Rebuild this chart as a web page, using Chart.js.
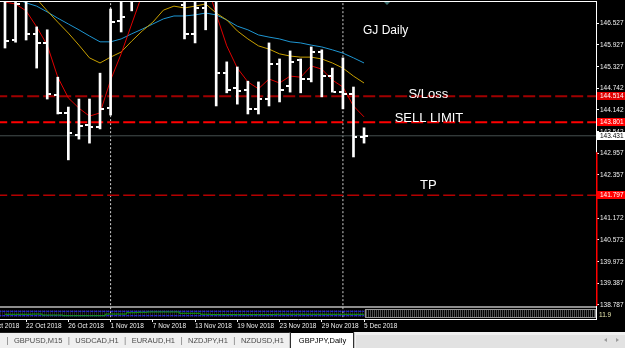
<!DOCTYPE html>
<html>
<head>
<meta charset="utf-8">
<script src="https://cdn.jsdelivr.net/npm/chart.js@4.4.1/dist/chart.umd.min.js"></script>
<style>
  html, body { margin: 0; padding: 0; background: #000; }
  #wrap { width: 625px; height: 348px; position: relative; }
</style>
</head>
<body>
<div id="wrap"><canvas id="gj" width="625" height="348"></canvas></div>
<script>
// GBPJPY daily, 18 Oct - 5 Dec 2018 (one entry per trading day)
const barDates = ["18 Oct","19 Oct","22 Oct","23 Oct","24 Oct","25 Oct","26 Oct","29 Oct","30 Oct","31 Oct",
  "1 Nov","2 Nov","5 Nov","6 Nov","7 Nov","8 Nov","9 Nov","12 Nov","13 Nov","14 Nov","15 Nov","16 Nov",
  "19 Nov","20 Nov","21 Nov","22 Nov","23 Nov","26 Nov","27 Nov","28 Nov","29 Nov","30 Nov",
  "3 Dec","4 Dec","5 Dec"];
const opens  = [147.29,146.06,147.24,146.22,145.98,144.55,144.06,143.45,143.73,143.67,
  144.19,146.58,147.29,147.37,147.80,147.85,147.60,147.02,146.22,146.95,147.25,145.15,
  144.74,144.69,144.17,144.44,145.40,144.80,145.51,144.99,145.73,145.07,
  144.63,144.58,143.40];
const highs  = [147.43,147.29,147.43,146.42,146.34,145.04,144.22,144.44,144.44,145.15,
  146.91,147.29,147.57,147.95,148.30,148.10,147.75,147.29,147.29,147.35,147.45,145.46,
  145.32,144.93,144.91,145.98,145.54,145.76,145.54,145.87,145.79,145.29,
  145.57,144.77,143.65];
const lows   = [145.84,146.00,146.06,145.29,144.44,144.03,142.77,143.34,143.23,143.62,
  144.00,146.28,146.86,147.25,147.40,147.45,147.20,146.09,145.98,146.34,144.25,144.61,
  144.30,144.03,144.03,144.25,144.36,144.63,144.61,144.91,144.50,144.63,
  144.17,142.85,143.23];
const closes = [146.03,147.05,146.22,145.98,144.58,144.06,143.51,143.70,143.67,144.17,
  146.55,146.69,147.37,147.80,147.85,147.60,147.25,146.22,146.95,147.25,145.15,144.69,
  144.66,144.17,144.44,145.40,144.69,145.46,144.99,145.73,145.07,144.63,
  144.58,143.40,143.431];

// moving averages
const maFast = [147.10,147.05,146.86,146.42,145.92,145.04,144.47,144.19,143.97,144.06,
  144.96,145.68,146.50,147.32,147.65,147.85,147.95,147.95,147.85,147.70,146.77,145.90,
  145.29,144.91,144.72,144.99,144.88,145.07,145.04,145.35,145.26,144.96,
  144.77,144.25,143.95];
const maMid  = [148.12,147.84,147.49,147.19,146.86,146.55,146.25,145.92,145.57,145.43,
  145.59,145.73,146.03,146.31,146.55,146.88,146.99,146.94,146.99,147.05,146.80,146.61,
  146.31,146.09,145.90,145.81,145.68,145.62,145.59,145.59,145.54,145.43,
  145.29,145.07,144.88];
const maSlow = [147.30,147.19,147.08,146.99,146.83,146.66,146.50,146.34,146.17,146.01,
  146.01,146.09,146.23,146.36,146.50,146.64,146.72,146.72,146.75,146.80,146.75,146.61,
  146.44,146.34,146.20,146.14,146.09,146.01,145.98,145.92,145.87,145.79,
  145.70,145.57,145.43];

// sub-window indicator
const indLine   = [0.43,0.43,0.43,0.45,0.36,0.36,0.30,0.30,0.30,0.30,
  0.45,0.45,0.57,0.61,0.64,0.64,0.64,0.52,0.52,0.43,0.40,0.40,
  0.40,0.40,0.40,0.40,0.43,0.43,0.43,0.43,0.43,0.43,
  0.43,0.43,0.43];
const indLevels = [0.70, 0.30];

// order levels
const stopLoss = 144.514;
const sellLimit = 143.801;
const takeProfit = 141.797;
const lastPrice = 143.431;

const priceTicks = [146.527,145.927,145.327,144.742,144.142,143.542,142.957,142.357,
  141.172,140.572,139.972,139.387,138.787];
const dateTicks  = [-2, 2, 6, 10, 14, 18, 22, 26, 30, 34];
const dateLabels = ["16 Oct 2018","22 Oct 2018","26 Oct 2018","1 Nov 2018","7 Nov 2018",
  "13 Nov 2018","19 Nov 2018","23 Nov 2018","29 Nov 2018","5 Dec 2018"];
const monthStarts = [10, 32];

const tabs = ["GBPUSD,M15","USDCAD,H1","EURAUD,H1","NZDJPY,H1","NZDUSD,H1"];
const activeTab = "GBPJPY,Daily";

const xMin = -0.473, xMax = 55.966;
const yMin = 138.402, yMax = 147.131;
const indMax = 28.91;

const FONT = "Liberation Sans, Arial, sans-serif";

// open / close tick marks as tiny images
function tickImg(left) {
  const c = document.createElement("canvas");
  c.width = 8; c.height = 2;
  const g = c.getContext("2d");
  g.fillStyle = "#fff";
  g.fillRect(left ? 0 : 5, 0, 3, 2);
  return c;
}

const idx = barDates.map((d, i) => i);
const pts = arr => idx.map(i => ({ x: i, y: arr[i] }));
const hline = v => [{ x: xMin - 5, y: v }, { x: xMax + 5, y: v }];

const notes = [
  { text: "GJ Daily", at: [33.9, 146.31], size: 12 },
  { text: "S/Loss", at: [38.2, 144.58], size: 13 },
  { text: "SELL LIMIT", at: [36.9, 143.92], size: 13 },
  { text: "TP", at: [39.3, 142.08], size: 13 }
];

const levelBoxes = [
  { v: stopLoss, bg: "#e00000", fg: "#fff" },
  { v: sellLimit, bg: "#ff0000", fg: "#fff" },
  { v: lastPrice, bg: "#ffffff", fg: "#000" },
  { v: takeProfit, bg: "#ff0000", fg: "#fff" }
];

const chrome = {
  id: "mtChrome",
  beforeDatasetsDraw(chart) {
    const { ctx, chartArea: a, scales: { x } } = chart;
    const lastPx = x.getPixelForValue(idx.length - 1) + 1;
    ctx.save();
    // sub-window separator and striped band
    ctx.fillStyle = "#8c8c8c";
    ctx.fillRect(a.left, a.bottom - 13, a.right - a.left, 2);
    for (let px = a.left; px < a.right; px += 2) {
      ctx.fillStyle = px < lastPx ? "#262626" : "#4e4e4e";
      ctx.fillRect(px, a.bottom - 9, 1, 7);
    }
    ctx.strokeStyle = "#9a9a9a";
    ctx.lineWidth = 1;
    ctx.strokeRect(lastPx + 0.5, a.bottom - 9.5, a.right - lastPx - 1, 8);
    ctx.restore();
  },
  afterDatasetsDraw(chart) {
    const { ctx, chartArea: a, scales: { x, y } } = chart;
    ctx.save();
    // top border
    ctx.fillStyle = "#fff";
    ctx.fillRect(a.left, a.top, a.right - a.left, 1);
    // small marker at top
    ctx.fillStyle = "#3c6e6e";
    ctx.beginPath();
    ctx.moveTo(384, a.top + 1); ctx.lineTo(390, a.top + 1); ctx.lineTo(387, a.top + 4);
    ctx.fill();
    // text objects
    ctx.fillStyle = "#fff";
    ctx.textBaseline = "middle";
    ctx.textAlign = "left";
    notes.forEach(n => {
      ctx.font = n.size + "px " + FONT;
      ctx.fillText(n.text, x.getPixelForValue(n.at[0]), y.getPixelForValue(n.at[1]));
    });
    ctx.restore();
  },
  afterDraw(chart) {
    const { ctx, chartArea: a, scales: { y }, width, height } = chart;
    ctx.save();
    // red bar on price axis
    const redTop = y.getPixelForValue(142.98);
    ctx.fillStyle = "#ff0000";
    ctx.fillRect(a.right, redTop, 1.5, a.bottom - 13 - redTop);
    // price boxes on the axis
    ctx.font = "6.5px " + FONT;
    ctx.textBaseline = "middle";
    levelBoxes.forEach(b => {
      const py = Math.round(y.getPixelForValue(b.v));
      ctx.fillStyle = b.bg;
      ctx.fillRect(a.right + 1, py - 4, width - a.right - 1, 8);
      ctx.fillStyle = b.fg;
      ctx.fillText(b.v.toFixed(3), a.right + 4, py + 0.5);
    });
    ctx.fillStyle = "#e8e8b0";
    ctx.fillText("11.9", a.right + 3, a.bottom - 4);

    // terminal tab strip
    const top = 332;
    ctx.fillStyle = "#f0f0f0";
    ctx.fillRect(0, top, width, height - top);
    ctx.fillStyle = "#e2e2e2";
    ctx.fillRect(356, top + 3, width - 356, height - top - 3);
    ctx.fillStyle = "#202020";
    ctx.fillRect(0, top, 294, 1);
    ctx.font = "7.5px " + FONT;
    ctx.textBaseline = "middle";
    let tx = 7;
    tabs.forEach(t => {
      ctx.fillStyle = "#9a9a9a";
      ctx.fillRect(tx, top + 5, 1, 8);
      ctx.fillStyle = "#4a4a4a";
      ctx.fillText(t, tx + 7, top + 9);
      tx += 7 + ctx.measureText(t).width + 6;
    });
    const tw = ctx.measureText(activeTab).width;
    ctx.fillStyle = "#ffffff";
    ctx.fillRect(tx, top, tw + 17, height - top);
    ctx.strokeStyle = "#000";
    ctx.lineWidth = 1;
    ctx.beginPath();
    ctx.moveTo(tx + 0.5, height); ctx.lineTo(tx + 0.5, top + 0.5);
    ctx.lineTo(tx + tw + 16.5, top + 0.5); ctx.lineTo(tx + tw + 16.5, height);
    ctx.stroke();
    ctx.fillStyle = "#000";
    ctx.fillText(activeTab, tx + 9, top + 9);
    // scroll arrows
    ctx.fillStyle = "#9a9a9a";
    ctx.beginPath(); ctx.moveTo(604, 340); ctx.lineTo(607, 338); ctx.lineTo(607, 342); ctx.fill();
    ctx.beginPath(); ctx.moveTo(619, 340); ctx.lineTo(616, 338); ctx.lineTo(616, 342); ctx.fill();
    ctx.restore();
  }
};

new Chart(document.getElementById("gj"), {
  type: "bar",
  data: {
    datasets: [
      { type: "bar", data: idx.map(i => ({ x: i, y: [lows[i], highs[i]] })), backgroundColor: "#ffffff",
        barThickness: 2, borderWidth: 0, order: 0 },
      { type: "line", data: pts(opens), showLine: false, pointStyle: tickImg(true), pointRadius: 4, order: 0, clip: 0 },
      { type: "line", data: pts(closes), showLine: false, pointStyle: tickImg(false), pointRadius: 4, order: 0, clip: 0 },
      { type: "line", data: pts(maFast), borderColor: "#e00000", borderWidth: 1, pointRadius: 0, order: 1, clip: 0 },
      { type: "line", data: pts(maMid), borderColor: "#c8a000", borderWidth: 1, pointRadius: 0, order: 1, clip: 0 },
      { type: "line", data: pts(maSlow), borderColor: "#1e96d2", borderWidth: 1, pointRadius: 0, order: 1, clip: 0 },
      { type: "line", data: hline(stopLoss), borderColor: "#a00000", borderWidth: 2, borderDash: [12, 4], pointRadius: 0, order: 2, clip: 0 },
      { type: "line", data: hline(sellLimit), borderColor: "#ff0000", borderWidth: 2, borderDash: [12, 4], pointRadius: 0, order: 2, clip: 0 },
      { type: "line", data: hline(takeProfit), borderColor: "#b40000", borderWidth: 1.5, borderDash: [12, 4], pointRadius: 0, order: 2, clip: 0 },
      { type: "line", data: hline(lastPrice), borderColor: "#465050", borderWidth: 1, pointRadius: 0, order: 2, clip: 0 },
      ...monthStarts.map(m => ({ type: "line", data: [{ x: m, y: yMin - 5 }, { x: m, y: yMax + 5 }],
        borderColor: "#d0d0d0", borderWidth: 1, borderDash: [2, 2], pointRadius: 0, order: 3, clip: 0 })),
      ...indLevels.map(v => ({ type: "line", yAxisID: "yi", data: [{ x: -1, y: v }, { x: idx.length - 1, y: v }],
        borderColor: "#2a2aff", borderWidth: 1, borderDash: [3, 1], pointRadius: 0, order: 1, clip: 0 })),
      { type: "line", yAxisID: "yi", data: pts(indLine), borderColor: "#10a010", borderWidth: 1, stepped: "middle",
        pointRadius: 0, order: 0, clip: 0 }
    ]
  },
  options: {
    responsive: false,
    animation: false,
    events: [],
    layout: { autoPadding: false, padding: { top: 1, bottom: 17, left: 0, right: 0 } },
    plugins: { legend: { display: false }, tooltip: { enabled: false } },
    scales: {
      x: {
        type: "linear", min: xMin, max: xMax, offset: false,
        afterBuildTicks: s => { s.ticks = dateTicks.map(v => ({ value: v })); },
        afterFit: s => { s.height = 12; s.paddingLeft = 0; s.paddingRight = 0; },
        ticks: { autoSkip: false, maxRotation: 0, minRotation: 0, align: "start", padding: 0,
          color: "#f0f0f0", font: { family: FONT, size: 6.5 }, callback: (v, i) => dateLabels[i] },
        grid: { display: true, drawOnChartArea: false, drawTicks: true, tickLength: 3, color: "#ffffff", offset: false },
        border: { display: true, color: "#ffffff" }
      },
      y: {
        position: "right", min: yMin, max: yMax,
        afterBuildTicks: s => { s.ticks = priceTicks.map(v => ({ value: v })); },
        afterFit: s => { s.width = 29; s.paddingTop = 0; s.paddingBottom = 0; },
        ticks: { padding: 1, color: "#f0f0f0", font: { family: FONT, size: 6.5 }, callback: v => v.toFixed(3) },
        grid: { display: true, drawOnChartArea: false, drawTicks: true, tickLength: 3, color: "#ffffff" },
        border: { display: true, color: "#ffffff" }
      },
      yi: { display: false, min: 0, max: indMax }
    }
  },
  plugins: [chrome]
});
</script>
</body>
</html>
